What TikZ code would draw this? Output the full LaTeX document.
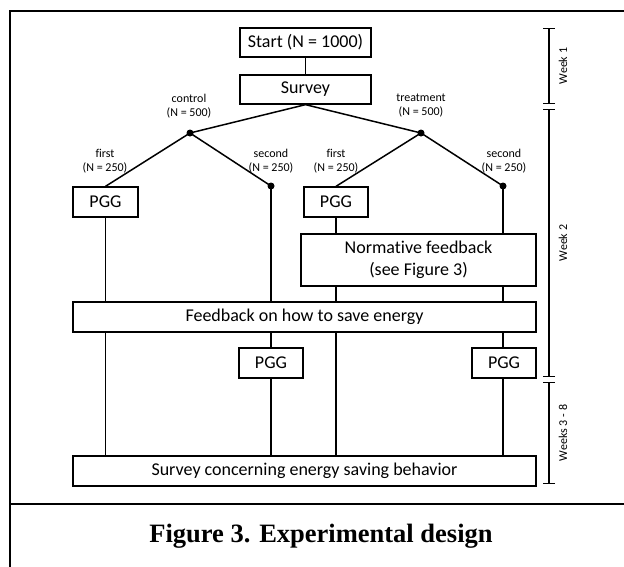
\documentclass[tikz,border=0pt]{standalone}
\usepackage{fontspec}
\setmainfont[Ligatures=NoCommon]{Carlito}
\newfontfamily\capfont{Liberation Serif}
\usetikzlibrary{arrows.meta}
\begin{document}
\begin{tikzpicture}[x=1pt,y=-1pt,
 box/.style={draw,line width=1.3pt,inner sep=0pt,align=center,font=\fontsize{18}{22.5}\selectfont},
 lbl/.style={align=center,inner sep=0pt,font=\fontsize{12}{14}\selectfont},
 dotn/.style={circle,fill,inner sep=0pt,minimum size=7pt},
 conn/.style={line width=1.5pt},
 vline/.style={line width=1.2pt},
 frameline/.style={line width=2.6pt},
 weekbar/.style={line width=1.4pt,{Bar[width=12pt,line width=1.4pt]}-{Bar[width=12pt,line width=1.4pt]}},
 wk/.style={rotate=90,font=\fontsize{12}{14}\selectfont,inner sep=0pt}]
\useasboundingbox (0,0) rectangle (624,566);
% frame
\coordinate (ftl) at (10,11);
\coordinate (ftr) at (630,11);
\coordinate (fbl) at (10,570);
\coordinate (fdl) at (10,504);
\coordinate (fdr) at (630,504);
\draw[frameline] (ftr) -- (ftl) -- (fbl);
\draw[frameline] (fdl) -- (fdr);
% boxes
\node[box,minimum width=131pt,minimum height=29pt] (start) at (305.5,42.5) {Start (N = 1000)};
\node[box,minimum width=131pt,minimum height=29pt] (survey) at (305.5,89.5) {Survey};
\node[dotn] (ctrl) at (190,133) {};
\node[dotn] (treat) at (421,133) {};
\node[lbl] (ctrll) at (189,106) {control\\(N = 500)};
\node[lbl] (treatl) at (421,106) {treatment\\(N = 500)};
\node[box,minimum width=65pt,minimum height=30pt] (pgga) at (105.5,202) {PGG};
\node[dotn] (c2) at (271,186) {};
\node[box,minimum width=64pt,minimum height=30pt] (pggb) at (336,202) {PGG};
\node[dotn] (t2) at (503,186) {};
\node[lbl] (c1l) at (105,161) {first\\(N = 250)};
\node[lbl] (c2l) at (271,161) {second\\(N = 250)};
\node[lbl] (t1l) at (336,161) {first\\(N = 250)};
\node[lbl] (t2l) at (504,161) {second\\(N = 250)};
\node[box,minimum width=235pt,minimum height=52pt] (norm) at (418.5,260) {Normative feedback\\(see Figure 3)};
\node[box,minimum width=463pt,minimum height=30pt] (fb) at (304.5,317) {Feedback on how to save energy};
\node[box,minimum width=64pt,minimum height=30pt] (pggc) at (271,363) {PGG};
\node[box,minimum width=64pt,minimum height=30pt] (pggd) at (504,363) {PGG};
\node[box,minimum width=463pt,minimum height=30pt] (final) at (304.5,471) {Survey concerning energy saving behavior};
% connectors
\draw[conn] (start) -- (survey);
\draw[conn] (survey.south) -- (ctrl.center);
\draw[conn] (survey.south) -- (treat.center);
\draw[conn] (ctrl.center) -- (pgga.north);
\draw[conn] (ctrl.center) -- (c2.center);
\draw[conn] (treat.center) -- (pggb.north);
\draw[conn] (treat.center) -- (t2.center);
% verticals
\draw[vline] (pgga.south) -- (pgga.south |- fb.north);
\draw[vline] (pgga.south |- fb.south) -- (pgga.south |- final.north);
\draw[vline] (c2.center) -- (c2.center |- fb.north);
\draw[vline] (pggc.north |- fb.south) -- (pggc.north);
\draw[vline] (pggc.south) -- (pggc.south |- final.north);
\draw[vline] (pggb.south) -- (pggb.south |- norm.north);
\draw[vline] (pggb.south |- norm.south) -- (pggb.south |- fb.north);
\draw[vline] (pggb.south |- fb.south) -- (pggb.south |- final.north);
\draw[vline] (t2.center) -- (t2.center |- norm.north);
\draw[vline] (t2.center |- norm.south) -- (t2.center |- fb.north);
\draw[vline] (t2.center |- fb.south) -- (t2.center |- pggd.north);
\draw[vline] (t2.center |- pggd.south) -- (t2.center |- final.north);
% week bars
\coordinate (w1a) at (549,28);
\coordinate (w1b) at (549,104);
\coordinate (w2a) at (549,109);
\coordinate (w2b) at (549,377);
\coordinate (w3a) at (549,382);
\coordinate (w3b) at (549,484);
\draw[weekbar] (w1a) -- (w1b);
\draw[weekbar] (w2a) -- (w2b);
\draw[weekbar] (w3a) -- (w3b);
\node[wk] (wk1) at (563,66) {Week 1};
\node[wk] (wk2) at (563,243) {Week 2};
\node[wk] (wk3) at (563,433) {Weeks 3 - 8};
% caption
\node[font=\capfont\bfseries\fontsize{26.5}{30}\selectfont,inner sep=0pt] (cap) at (321,536) {Figure 3. Experimental design};
\end{tikzpicture}
\end{document}
